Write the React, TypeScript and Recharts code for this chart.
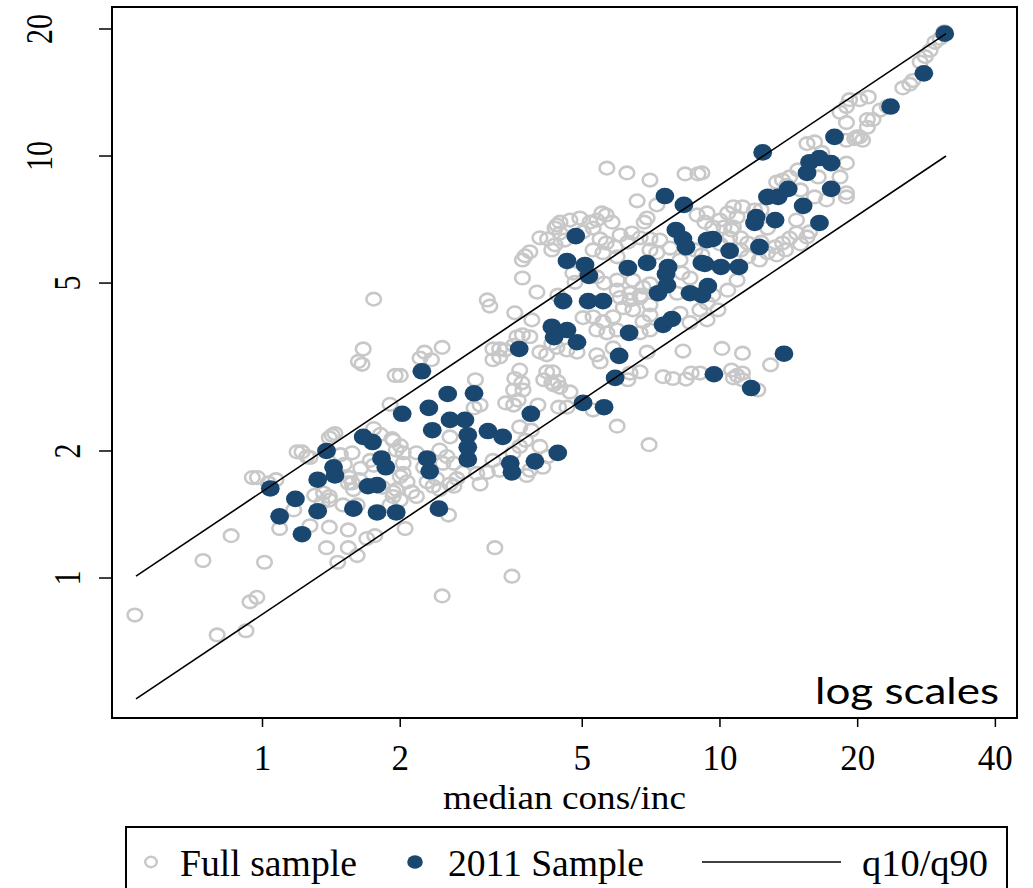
import React from "react";
import { ScatterChart, Scatter, XAxis, YAxis, ReferenceArea, Legend } from "recharts";

const serif = "'Liberation Serif', 'Times New Roman', serif";
const NAVY = "#1a476f";
const GREY = "#c8c8c8";

const xTicks = [1, 2, 5, 10, 20, 40];
const yTicks = [1, 2, 5, 10, 20];
const xDomain: [number, number] = [0.4688, 44.6];
const yDomain: [number, number] = [0.4659, 22.55];

// full sample (median cons/inc, y)
const fullSample: [number, number][] = [
  [30.9, 19.7], [30.3, 19.0], [29.5, 18.6], [28.8, 17.8], [28.1, 17.2], [27.4, 16.7], [26.4, 15.1], [26.0, 14.8],
  [25.1, 14.5], [23.2, 13.1], [22.4, 12.85], [21.6, 12.2], [21.0, 11.7], [20.2, 11.1], [19.7, 11.0], [19.2, 13.6],
  [20.2, 13.6], [21.1, 13.8], [18.9, 13.1], [18.9, 12.0], [18.9, 9.62], [18.9, 8.18], [21.0, 12.2], [19.9, 11.1],
  [18.9, 10.9], [20.5, 10.9], [16.1, 10.8], [15.5, 10.7], [16.7, 10.2], [18.3, 12.7], [14.8, 9.27], [14.2, 8.92],
  [13.7, 8.77], [13.3, 8.67], [16.4, 8.92], [18.3, 8.92], [17.1, 7.87], [16.1, 8.0], [18.9, 8.0],
  [9.13, 9.12], [10.7, 7.58], [10.4, 7.33], [9.37, 7.33], [11.2, 7.58], [10.9, 7.17], [14.7, 7.05], [12.7, 6.75],
  [15.7, 6.61], [14.7, 6.57], [14.2, 6.39], [13.7, 6.22], [13.2, 6.09], [13.3, 5.83], [12.2, 5.67], [12.3, 6.25],
  [11.5, 6.22], [11.1, 6.4], [10.7, 6.79], [10.0, 7.05], [9.65, 6.79], [11.5, 5.77], [10.5, 6.4],
  [14.0, 8.52], [15.0, 8.31], [13.0, 8.05], [11.9, 7.45], [12.3, 7.45], [10.2, 6.79], [10.6, 6.68], [10.0, 6.19],
  [11.1, 5.99], [15.0, 6.19], [13.9, 5.99], [15.5, 6.43], [12.7, 5.9],
  [5.66, 9.36], [6.26, 9.12], [7.03, 8.77], [8.39, 9.07], [8.95, 9.07], [6.59, 7.83], [7.28, 7.66], [6.93, 7.13],
  [6.83, 6.97], [8.91, 7.25], [9.27, 6.97], [5.52, 7.33], [5.64, 7.25], [5.38, 7.05], [5.81, 6.97], [5.2, 6.97],
  [4.94, 7.13], [4.7, 7.05], [4.47, 6.97], [4.36, 6.75], [5.28, 6.75], [5.02, 6.61], [4.47, 6.57], [4.58, 6.32],
  [6.05, 6.5], [6.42, 6.57], [6.29, 6.25], [6.69, 6.4], [7.03, 6.36], [7.39, 6.32], [5.47, 6.36], [5.64, 6.22],
  [5.9, 6.09], [7.03, 5.99], [7.28, 5.9], [7.78, 6.05], [8.82, 5.99], [9.13, 5.83], [5.28, 5.99], [5.55, 5.9],
  [5.96, 5.77], [4.77, 5.28], [4.82, 5.02], [5.38, 5.17], [5.58, 5.0], [5.96, 5.08], [6.45, 5.08], [6.79, 4.89],
  [7.03, 4.98], [8.18, 5.67], [8.26, 5.28], [8.6, 5.14], [5.96, 4.81], [6.36, 4.73], [6.69, 4.62], [8.06, 4.73],
  [6.05, 4.62], [6.36, 4.56], [6.69, 4.68], [7.03, 4.44], [6.45, 4.32], [6.15, 4.37], [5.02, 4.14], [5.28, 4.16],
  [5.55, 4.05], [5.84, 4.16], [5.38, 3.87], [5.66, 3.81], [5.96, 3.87], [6.79, 4.05], [7.03, 3.87], [6.69, 3.81],
  [7.03, 4.2], [8.18, 4.24], [8.6, 4.03], [9.04, 4.32], [4.4, 3.52], [4.63, 3.47], [4.87, 3.43], [5.38, 3.38],
  [5.47, 3.25], [5.84, 3.51], [6.93, 3.43], [8.3, 3.45], [4.31, 3.08], [4.29, 2.9], [4.47, 2.83], [4.7, 2.76],
  [6.36, 3.06], [6.69, 3.08], [6.29, 2.95], [7.51, 3.0], [7.89, 2.97], [8.43, 2.96], [8.65, 3.06], [9.04, 3.06],
  [4.63, 2.54], [5.28, 2.5], [5.96, 2.29], [7.0, 2.07],
  [10.1, 3.5], [11.2, 3.41], [12.9, 3.2], [10.6, 3.11], [10.9, 3.02], [11.2, 3.06], [10.7, 2.98], [11.2, 2.95],
  [12.1, 2.79], [9.9, 4.32], [9.37, 4.09], [9.37, 4.49], [9.65, 4.68], [10.4, 4.81], [10.9, 5.08],
  [4.04, 6.4], [4.2, 6.36], [4.4, 6.86], [4.36, 6.16], [4.29, 5.99], [3.75, 5.8], [3.84, 5.93], [3.7, 5.67],
  [3.7, 5.14], [3.98, 4.76], [4.42, 4.68], [3.1, 4.56],
  [3.14, 4.41], [3.56, 4.25], [3.88, 4.09], [3.7, 3.77], [3.6, 3.73], [3.84, 3.73], [2.47, 3.52], [2.26, 3.43],
  [2.21, 3.32], [2.34, 3.29], [2.0, 3.02], [3.19, 3.49], [3.3, 3.49], [3.39, 3.47], [3.19, 3.29], [3.3, 3.34],
  [3.54, 3.56], [4.04, 3.43], [4.18, 3.38], [4.29, 3.6], [3.65, 3.11], [3.56, 2.97], [3.69, 2.9], [3.54, 2.79],
  [3.4, 2.6], [3.54, 2.57], [3.62, 2.64], [3.71, 2.79], [4.18, 3.08], [4.12, 2.95], [4.33, 2.87], [4.42, 2.92],
  [2.92, 2.95], [2.99, 2.57], [2.9, 2.53], [4.44, 2.54], [4.0, 2.57], [2.57, 2.16],
  [1.66, 3.49], [1.62, 3.26], [1.65, 3.21], [1.95, 3.02], [1.9, 2.58], [1.44, 2.2], [1.4, 2.15], [1.75, 2.26],
  [1.81, 2.19], [1.93, 2.12], [2.0, 2.06], [1.96, 2.01], [2.03, 1.98], [1.22, 1.99], [1.27, 1.93], [1.48, 1.96],
  [1.57, 1.98], [1.51, 1.86], [1.72, 1.9], [1.75, 1.85], [0.95, 1.73], [0.975, 1.73], [1.07, 1.71], [1.03, 1.68],
  [1.64, 1.82], [1.55, 1.73], [1.54, 1.68], [1.58, 1.62], [1.36, 1.59], [1.3, 1.57], [1.4, 1.56], [2.03, 1.87],
  [2.03, 1.77], [1.96, 1.62], [1.93, 1.56],
  [1.19, 1.99], [1.17, 1.45], [1.09, 1.31], [0.854, 1.26], [0.741, 1.1], [1.01, 1.09], [0.939, 0.878],
  [0.972, 0.9], [0.526, 0.817], [0.796, 0.733], [0.92, 0.75],
  [3.22, 1.18], [3.51, 1.01], [2.47, 0.907], [1.42, 2.18], [1.92, 2.14], [1.25, 1.94], [1.57, 1.68], [1.63, 1.71],
  [1.4, 1.53], [1.35, 1.51], [1.5, 1.49], [1.61, 1.49], [1.27, 1.33], [1.4, 1.32], [1.54, 1.3], [1.69, 1.24],
  [1.76, 1.26], [1.38, 1.18], [1.54, 1.18], [1.61, 1.13], [1.46, 1.09], [2.05, 1.31], [1.83, 1.64], [1.93, 1.6],
  [2.0, 1.53], [1.9, 1.49], [2.12, 1.6], [2.17, 1.56], [2.07, 1.69], [2.0, 1.74], [2.17, 1.98], [2.25, 1.83],
  [2.44, 2.01], [2.53, 1.94], [2.48, 1.87], [2.62, 1.87], [2.4, 1.72], [2.29, 1.69], [2.36, 1.65], [2.44, 1.62],
  [2.57, 1.67], [2.66, 1.72], [2.74, 1.78], [2.94, 1.77], [3.1, 1.78], [2.99, 1.67], [2.62, 1.65], [2.55, 1.41],
  [3.19, 1.9], [3.3, 1.8], [3.53, 1.98], [3.65, 2.05], [3.76, 2.12], [3.87, 2.24], [3.65, 2.28], [4.04, 2.05],
  [4.1, 1.83], [3.84, 1.8], [3.78, 1.75], [4.2, 1.94], [1.75, 4.58],
];

// 2011 sample
const sample2011: [number, number][] = [
  [31.0, 19.5], [27.9, 15.7], [23.6, 13.1], [17.8, 11.1], [12.4, 10.2], [15.7, 9.67], [16.5, 9.89], [17.5, 9.62],
  [15.5, 9.12], [17.5, 8.36], [14.1, 8.36], [13.4, 8.0], [12.7, 8.0], [15.2, 7.62], [12.0, 7.17], [11.9, 6.94],
  [13.2, 7.05], [16.5, 6.94], [9.65, 6.36], [12.2, 6.09], [10.5, 5.96], [9.27, 5.55], [10.05, 5.46], [11.0, 5.46],
  [7.58, 8.04], [8.34, 7.66], [4.84, 6.46], [8.01, 6.68], [8.3, 6.36], [8.43, 6.08], [9.37, 6.32], [4.63, 5.64],
  [5.07, 5.52], [5.17, 5.2], [6.29, 5.43], [6.93, 5.58], [7.7, 5.46], [7.62, 5.25], [9.13, 5.58], [7.66, 4.94],
  [7.32, 4.73], [8.6, 4.73], [9.41, 4.92], [4.54, 4.53], [5.15, 4.53], [5.55, 4.53],
  [7.51, 3.98], [7.85, 4.11], [4.29, 3.94], [4.34, 3.72], [4.63, 3.87], [4.87, 3.62], [6.33, 3.81], [6.02, 3.36],
  [5.9, 2.98], [5.02, 2.6], [5.58, 2.54], [9.7, 3.04], [9.13, 4.68], [13.8, 3.4], [11.7, 2.82],
  [3.64, 3.49], [2.23, 3.09], [2.54, 2.73], [2.9, 2.74], [2.31, 2.53], [2.02, 2.45], [2.57, 2.37], [2.77, 2.37],
  [2.35, 2.24], [2.81, 2.18], [3.11, 2.23], [3.35, 2.16], [3.86, 2.45],
  [1.66, 2.16], [1.74, 2.1], [1.38, 2.0], [1.43, 1.83], [1.44, 1.75], [1.32, 1.71], [1.7, 1.65], [1.78, 1.66],
  [1.18, 1.54], [1.09, 1.4], [1.32, 1.44], [1.58, 1.46], [1.78, 1.43], [1.96, 1.43], [1.22, 1.27], [1.82, 1.92],
  [1.86, 1.83], [2.29, 1.92], [2.32, 1.79], [2.81, 2.04], [2.81, 1.91], [3.48, 1.87], [3.51, 1.78], [3.94, 1.89],
  [4.42, 1.98], [2.43, 1.46], [1.04, 1.63],
];

// q10/q90 lines (end points)
const q90Line: [number, number][] = [[0.529, 1.01], [31.2, 19.5]];
const q10Line: [number, number][] = [[0.529, 0.517], [31.2, 10.0]];

const toPts = (a: [number, number][]) => a.map(([x, y]) => ({ x, y }));

const Ring = ({ cx, cy }: any) => (
  <ellipse cx={cx} cy={cy} rx={7.3} ry={6.3} fill="none" stroke={GREY} strokeWidth={2.6} />
);
const Dot = ({ cx, cy }: any) => <ellipse cx={cx} cy={cy} rx={9.4} ry={8.3} fill={NAVY} />;
const NoMark = () => <g />;

const XTick = ({ x, payload }: any) => (
  <text x={x} y={770} textAnchor="middle" fontFamily={serif} fontSize={35} fill="#000">
    {payload.value}
  </text>
);

// rotated y labels; longer labels sit further left, as in the original
const YTick = ({ y, payload }: any) => {
  const s = String(payload.value);
  const bx = 80 - (s.length - 1) * 28;
  return (
    <text transform={`translate(${bx},${y}) scale(1.27,1) rotate(-90)`} textAnchor="middle" fontFamily={serif} fontSize={30} fill="#000">
      {s}
    </text>
  );
};

const XTitle = () => (
  <text x={564.5} y={809} textAnchor="middle" fontFamily={serif} fontSize={34} textLength={243} lengthAdjust="spacingAndGlyphs" fill="#000">
    median cons/inc
  </text>
);

const LogNote = () => (
  <text x={815} y={704} fontFamily="Lato, 'Open Sans', sans-serif" fontSize={36} textLength={184} lengthAdjust="spacingAndGlyphs" fill="#000">
    log scales
  </text>
);

const LegendBox = () => (
  <svg width={1033} height={888} style={{ display: "block" }}>
    <rect x={126} y={827} width={881} height={80} fill="none" stroke="#000" strokeWidth={2} />
    <ellipse cx={151} cy={862} rx={5.8} ry={5.2} fill="none" stroke={GREY} strokeWidth={2.4} />
    <text x={180} y={876} fontFamily={serif} fontSize={37} textLength={177} lengthAdjust="spacingAndGlyphs">Full sample</text>
    <ellipse cx={415} cy={862} rx={7.8} ry={6.8} fill={NAVY} />
    <text x={448} y={876} fontFamily={serif} fontSize={37} textLength={196} lengthAdjust="spacingAndGlyphs">2011 Sample</text>
    <line x1={702} x2={841} y1={862} y2={862} stroke="#000" strokeWidth={1.6} />
    <text x={862} y={876} fontFamily={serif} fontSize={37} textLength={126} lengthAdjust="spacingAndGlyphs">q10/q90</text>
  </svg>
);

export default function App() {
  const axisStyle = { stroke: "#000", strokeWidth: 2 };
  const tickStyle = { stroke: "#000", strokeWidth: 1.5 };
  return (
    <div style={{ position: "absolute", left: 0, top: 0, width: 1033, height: 888, overflow: "hidden", background: "#fff" }}>
      <ScatterChart width={1033} height={888} margin={{ top: 7, right: 16, bottom: 0, left: 0 }}>
        <XAxis
          type="number" dataKey="x" scale="log" domain={xDomain} ticks={xTicks} allowDataOverflow interval={0}
          height={170} tick={<XTick />} tickSize={9} tickLine={tickStyle} axisLine={axisStyle} stroke="#000"
          label={<XTitle />}
        />
        <YAxis
          type="number" dataKey="y" scale="log" domain={yDomain} ticks={yTicks} allowDataOverflow interval={0}
          width={112} tick={<YTick />} tickSize={13} tickLine={tickStyle} axisLine={axisStyle} stroke="#000"
        />
        <ReferenceArea
          x1={xDomain[0]} x2={xDomain[1]} y1={yDomain[0]} y2={yDomain[1]}
          fill="none" fillOpacity={0} stroke="#000" strokeWidth={2} ifOverflow="visible" label={<LogNote />}
        />
        <Scatter name="Full sample" data={toPts(fullSample)} shape={<Ring />} isAnimationActive={false} />
        <Scatter name="2011 Sample" data={toPts(sample2011)} shape={<Dot />} isAnimationActive={false} />
        <Scatter name="q10/q90" data={toPts(q90Line)} line={{ stroke: "#000", strokeWidth: 1.6 }} shape={<NoMark />} isAnimationActive={false} />
        <Scatter name="q10" data={toPts(q10Line)} line={{ stroke: "#000", strokeWidth: 1.6 }} shape={<NoMark />} isAnimationActive={false} legendType="none" />
        <Legend
          layout="vertical" align="center" verticalAlign="middle"
          wrapperStyle={{ left: 0, top: 0, width: 1033, height: 888, pointerEvents: "none" }}
          content={() => <LegendBox />}
        />
      </ScatterChart>
    </div>
  );
}
